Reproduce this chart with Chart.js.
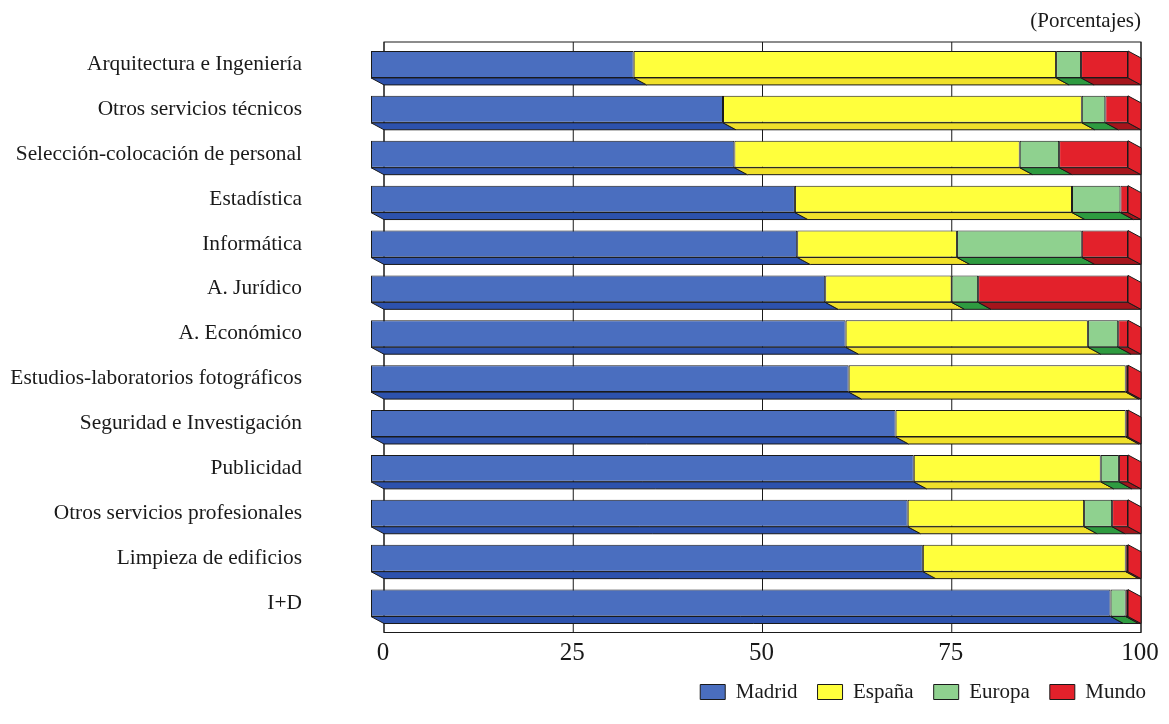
<!DOCTYPE html>
<html>
<head>
<meta charset="utf-8">
<script src="https://cdn.jsdelivr.net/npm/chart.js@4.4.0/dist/chart.umd.min.js"></script>
<style>
  html, body { margin: 0; padding: 0; background: #fff; }
</style>
</head>
<body>
<canvas id="grafico" width="1169" height="724"></canvas>
<script>
const categorias = [
  'Arquitectura e Ingeniería',
  'Otros servicios técnicos',
  'Selección-colocación de personal',
  'Estadística',
  'Informática',
  'A. Jurídico',
  'A. Económico',
  'Estudios-laboratorios fotográficos',
  'Seguridad e Investigación',
  'Publicidad',
  'Otros servicios profesionales',
  'Limpieza de edificios',
  'I+D'
];
const madrid = [34.7, 46.5, 48.0, 56.0, 56.3, 60.0, 62.7, 63.1, 69.3, 71.7, 70.9, 72.9, 97.7];
const espana = [55.8, 47.4, 37.7, 36.6, 21.1, 16.7, 32.0, 36.6, 30.4, 24.7, 23.3, 26.8, 0];
const europa = [3.3, 3.1, 5.2, 6.4, 16.5, 3.5, 4.0, 0, 0, 2.4, 3.7, 0, 2.0];
const mundo = [6.2, 3.0, 9.1, 1.0, 6.1, 19.8, 1.3, 0.3, 0.3, 1.2, 2.1, 0.3, 0.3];
const marcas = [0, 25, 50, 75, 100];

const fuente = '"Liberation Serif", "Times New Roman", serif';
const colores = ['#4a6ebf', '#ffff3c', '#8fd18f', '#e3212b'];
const sombras = ['#2d52ad', '#f0e02a', '#2e9b40', '#a5151c'];
const dx = 13, dy = 7;

function poligono(ctx, pts, relleno) {
    ctx.beginPath();
    ctx.moveTo(pts[0][0], pts[0][1]);
    for (let k = 1; k < pts.length; k++) ctx.lineTo(pts[k][0], pts[k][1]);
    ctx.closePath();
    ctx.fillStyle = relleno;
    ctx.fill();
    ctx.stroke();
}

// caras laterales e inferiores de las barras, y el fondo
const tresD = {
    id: 'tresD',
    beforeDatasetsDraw(chart) {
        const { ctx, chartArea: a } = chart;
        const x = chart.scales.x;
        ctx.save();
        ctx.lineWidth = 1;
        ctx.strokeStyle = '#1a1a1a';

        const x0 = x.getPixelForValue(0) + dx;
        const x1 = x.getPixelForValue(100) + dx;
        ctx.fillStyle = '#fff';
        ctx.fillRect(x0, a.top, x1 - x0, a.bottom + dy - a.top);
        ctx.strokeRect(x0, a.top, x1 - x0, a.bottom + dy - a.top);
        marcas.forEach(v => {
            const px = x.getPixelForValue(v) + dx;
            ctx.beginPath();
            ctx.moveTo(px, a.top);
            ctx.lineTo(px, a.bottom + dy);
            ctx.stroke();
        });

        chart.data.datasets.forEach((ds, i) => {
            chart.getDatasetMeta(i).data.forEach((bar, j) => {
                if (!ds.data[j]) return;
                const xs = Math.min(bar.base, bar.x), xe = Math.max(bar.base, bar.x);
                const yb = bar.y + bar.height / 2;
                poligono(ctx, [[xs, yb], [xe, yb], [xe + dx, yb + dy], [xs + dx, yb + dy]], sombras[i]);
            });
        });

        categorias.forEach((c, j) => {
            let ult = 0;
            chart.data.datasets.forEach((ds, i) => { if (ds.data[j] > 0) ult = i; });
            const bar = chart.getDatasetMeta(ult).data[j];
            const xe = Math.max(bar.base, bar.x);
            const yt = bar.y - bar.height / 2, yb = bar.y + bar.height / 2;
            poligono(ctx, [[xe, yt], [xe + dx, yt + dy], [xe + dx, yb + dy], [xe, yb]], colores[ult]);
        });
        ctx.restore();
    },
    afterDraw(chart) {
        const ctx = chart.ctx;
        ctx.save();
        ctx.font = '21px ' + fuente;
        ctx.fillStyle = '#1a1a1a';
        ctx.textAlign = 'right';
        ctx.textBaseline = 'middle';
        ctx.fillText('(Porcentajes)', 1141, 21);
        ctx.restore();
    }
};

const series = [
    ['Madrid', madrid],
    ['España', espana],
    ['Europa', europa],
    ['Mundo', mundo]
];

new Chart(document.getElementById('grafico'), {
    type: 'bar',
    data: {
        labels: categorias,
        datasets: series.map((s, i) => ({
            label: s[0],
            data: s[1],
            backgroundColor: colores[i],
            borderColor: '#1a1a1a',
            borderWidth: 1,
            borderSkipped: false,
            barPercentage: 0.6,
            categoryPercentage: 1.0
        }))
    },
    options: {
        indexAxis: 'y',
        responsive: false,
        animation: false,
        devicePixelRatio: 1,
        layout: { padding: { top: 42, right: 3, bottom: 11.5, left: 0 } },
        scales: {
            x: {
                stacked: true,
                min: 0,
                max: 100,
                grid: { display: false, drawTicks: false },
                border: { display: false },
                ticks: {
                    stepSize: 25,
                    padding: 13,
                    labelOffset: 12,
                    color: '#1a1a1a',
                    font: { family: fuente, size: 25 }
                },
                afterFit: s => { s.height = 36; }
            },
            y: {
                stacked: true,
                grid: { display: false, drawTicks: false },
                border: { display: false },
                ticks: {
                    padding: 69,
                    color: '#1a1a1a',
                    font: { family: fuente, size: 21.4 }
                },
                afterFit: s => {
                    s.width = 371;
                    s.paddingTop = 0;
                    s.paddingBottom = 0;
                }
            },
            derecha: {
                type: 'linear',
                position: 'right',
                grid: { display: false },
                border: { display: false },
                ticks: { display: false },
                afterFit: s => { s.width = 38; }
            }
        },
        plugins: {
            legend: {
                position: 'bottom',
                align: 'end',
                labels: {
                    boxWidth: 25,
                    boxHeight: 15,
                    padding: 20,
                    color: '#1a1a1a',
                    font: { family: fuente, size: 21 }
                }
            },
            tooltip: { enabled: false }
        }
    },
    plugins: [tresD]
});
</script>
</body>
</html>
